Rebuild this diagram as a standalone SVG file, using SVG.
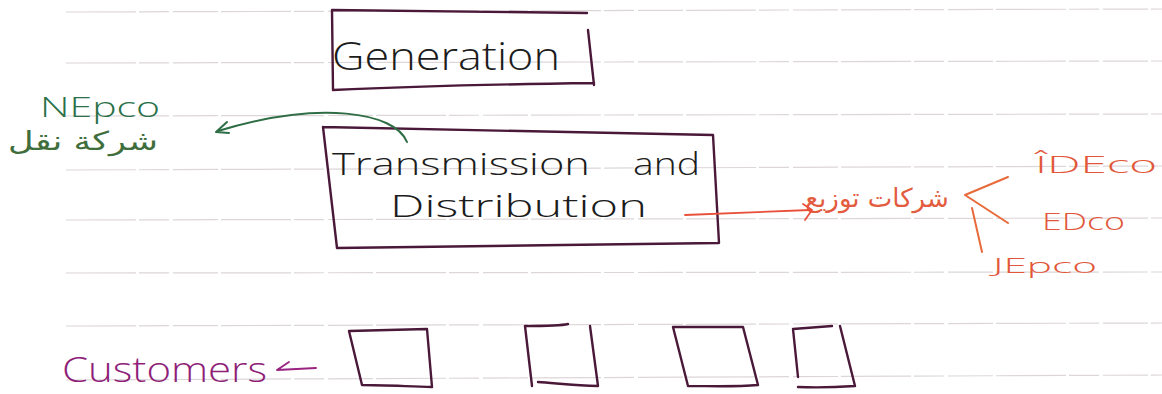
<svg xmlns="http://www.w3.org/2000/svg" width="1162" height="394" viewBox="0 0 1162 394">
<style>
.rule{stroke:#ddd6d8;stroke-width:1.2;fill:none;stroke-dasharray:70 3 30 4 45 3}
.box{fill:none;stroke:#4a1838;stroke-width:2.4;stroke-linecap:round;stroke-linejoin:round}
.cbox{fill:none;stroke:#4a1838;stroke-width:2.4;stroke-linecap:round;stroke-linejoin:round}
.ink{font-family:"Open Sans","Liberation Sans",sans-serif;fill:#1c1c1c;font-weight:300}
.green{font-family:"Open Sans","Liberation Sans",sans-serif;fill:#2a7048;font-weight:300}
.greenar{font-family:"DejaVu Sans","Noto Sans",sans-serif;fill:#3f6e3c}
.red{font-family:"Open Sans","Liberation Sans",sans-serif;fill:#e2573a;font-weight:300}
.redar{font-family:"DejaVu Sans","Noto Sans",sans-serif;fill:#e45c40}
.mag{font-family:"Open Sans","Liberation Sans",sans-serif;fill:#8f1f78;font-weight:300}
.gline{fill:none;stroke:#2f6e45;stroke-width:2;stroke-linecap:round;stroke-linejoin:round}
.rline{fill:none;stroke:#e8503a;stroke-width:1.8;stroke-linecap:round;stroke-linejoin:round}
.oline{fill:none;stroke:#e86a3a;stroke-width:2;stroke-linecap:round;stroke-linejoin:round}
.mline{fill:none;stroke:#9a2280;stroke-width:1.8;stroke-linecap:round;stroke-linejoin:round}
</style>
<rect width="1162" height="394" fill="#ffffff"/>
<g id="ruled-lines">
<path class="rule" d="M66,12 L1162,9"/>
<path class="rule" d="M66,63 L1162,61"/>
<path class="rule" d="M66,116 L1162,114"/>
<path class="rule" d="M66,170 L1162,166"/>
<path class="rule" d="M66,220 L1162,218"/>
<path class="rule" d="M66,273 L1162,272"/>
<path class="rule" d="M66,326 L1162,323"/>
<path class="rule" d="M66,380 L1162,375"/>
</g>
<g id="node-generation">
<path class="box" d="M332,10 L587,13 M588,30 L594,85 M333,90 C420,86 520,84 594,83 M332,10 L333,90"/>
<text class="ink" x="332" y="70" font-size="38" textLength="228" lengthAdjust="spacingAndGlyphs">Generation</text>
</g>
<g id="node-transmission">
<path class="box" d="M323,127 L713,135 L719,243 C600,244 450,247 337,248 L323,127"/>
<text class="ink" font-size="32" y="175"><tspan x="332" textLength="258" lengthAdjust="spacingAndGlyphs">Transmission</tspan> <tspan x="633" textLength="67" lengthAdjust="spacingAndGlyphs">and</tspan></text>
<text class="ink" x="390" y="217" font-size="32" textLength="257" lengthAdjust="spacingAndGlyphs">Distribution</text>
</g>
<g id="node-nepco">
<text class="green" x="40" y="117" font-size="27" textLength="120" lengthAdjust="spacingAndGlyphs">NEpco</text>
<text class="greenar" x="8" y="150" font-size="26" textLength="150" lengthAdjust="spacingAndGlyphs">شركة نقل</text>
</g>
<g id="node-distribution-companies">
<text class="redar" x="877" y="207" font-size="26" text-anchor="middle">شركات توزيع</text>
</g>
<g id="node-ideco">
<text class="red" x="1035" y="173" font-size="24" textLength="122" lengthAdjust="spacingAndGlyphs">ÎDEco</text>
</g>
<g id="node-edco">
<text class="red" x="1042" y="230" font-size="24" textLength="83" lengthAdjust="spacingAndGlyphs">EDco</text>
</g>
<g id="node-jepco">
<text class="red" x="993" y="273" font-size="21" textLength="104" lengthAdjust="spacingAndGlyphs">JEpco</text>
</g>
<g id="node-customers">
<text class="mag" x="62" y="382" font-size="34" textLength="205" lengthAdjust="spacingAndGlyphs">Customers</text>
</g>
<g id="node-customer-1"><path class="cbox" d="M349,331 L427,329 L432,387 C400,386 380,385 362,385 L349,331"/></g>
<g id="node-customer-2"><path class="cbox" d="M568,324 C560,326 540,326 525,326 L532,386 M590,326 L598,386 C575,386 555,383 538,382"/></g>
<g id="node-customer-3"><path class="cbox" d="M673,327 L743,327 L758,385 C735,387 710,386 688,386 L673,327"/></g>
<g id="node-customer-4"><path class="cbox" d="M832,326 L793,329 L798,377 M840,326 L855,386 C840,387 820,388 798,387"/></g>
<g id="connectors">
<path class="gline" d="M407,142 C395,112 320,100 218,131"/>
<path class="gline" d="M227,122 L216,132 L229,133"/>
<path class="rline" d="M685,215 L810,210"/>
<path class="rline" d="M803,204 L812,210 L805,220"/>
<path class="oline" d="M1008,177 L965,195 L1008,223"/>
<path class="oline" d="M972,208 L982,252"/>
<path class="mline" d="M316,368 L277,370 M277,370 L289,362"/>
</g>
</svg>
